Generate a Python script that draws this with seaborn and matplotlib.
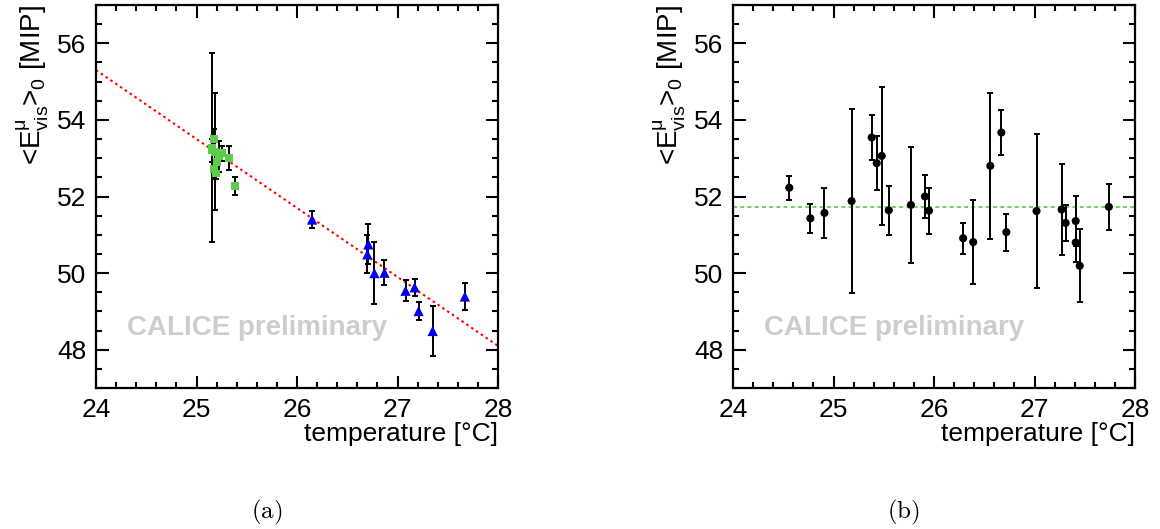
import matplotlib
matplotlib.use("Agg")
import matplotlib.pyplot as plt
import seaborn as sns
import pandas as pd
from matplotlib.ticker import MultipleLocator

# ---------------- data ----------------
# panel (a): green squares (cluster near 25.2 C)
green_t = [25.15, 25.18, 25.17, 25.15, 25.25, 25.32, 25.38, 25.20, 25.17, 25.22, 25.19]
green_e = [53.28, 53.17, 53.50, 53.20, 53.13, 53.00, 52.28, 52.90, 52.72, 53.05, 52.60]
green_err = [2.47, 1.52, 0.25, 0.30, 0.20, 0.32, 0.24, 0.30, 0.25, 0.40, 0.15]

# panel (a): blue triangles
blue_t = [26.15, 26.71, 26.70, 26.77, 26.87, 27.08, 27.17, 27.21, 27.35, 27.67]
blue_e = [51.40, 50.75, 50.49, 50.00, 50.01, 49.54, 49.63, 49.01, 48.49, 49.39]
blue_err = [0.22, 0.52, 0.50, 0.80, 0.32, 0.28, 0.22, 0.23, 0.65, 0.35]

# panel (a): linear fit end points
fit_t = [24.0, 28.0]
fit_e = [55.30, 48.10]

# panel (b): corrected values
corr_t = [24.56, 24.77, 24.91, 25.18, 25.38, 25.43, 25.48, 25.55, 25.77, 25.91,
          25.95, 26.29, 26.39, 26.56, 26.67, 26.72, 27.02, 27.27, 27.31, 27.41,
          27.41, 27.45, 27.74]
corr_e = [52.23, 51.43, 51.57, 51.88, 53.54, 52.87, 53.06, 51.64, 51.78, 52.00,
          51.63, 50.91, 50.81, 52.80, 53.67, 51.07, 51.62, 51.66, 51.31, 51.36,
          50.80, 50.19, 51.73]
corr_err = [0.31, 0.37, 0.66, 2.40, 0.60, 0.70, 1.80, 0.64, 1.52, 0.57,
            0.60, 0.41, 1.10, 1.90, 0.58, 0.48, 2.00, 1.18, 0.47, 0.65,
            0.50, 0.95, 0.60]

# panel (b): constant level
const_t = [24.0, 28.0]
const_e = [51.73, 51.73]

xticks = [24, 25, 26, 27, 28]
yticks = [48, 50, 52, 54, 56]
ylabel = r"<E$^{\mathrm{\mu}}_{\mathrm{vis}}$>$_{0}$ [MIP]"
xlabel = "temperature [°C]"
panel_labels = [r"$\mathrm{(a)}$", r"$\mathrm{(b)}$"]
watermark = "CALICE preliminary"

# ---------------- style ----------------
sns.set_style("ticks")
plt.rcParams["font.family"] = ["Liberation Sans", "DejaVu Sans"]
plt.rcParams["text.color"] = "black"
plt.rcParams["axes.labelcolor"] = "black"
plt.rcParams["xtick.color"] = "black"
plt.rcParams["ytick.color"] = "black"
plt.rcParams["mathtext.fontset"] = "custom"
plt.rcParams["mathtext.rm"] = "Liberation Sans"
plt.rcParams["mathtext.it"] = "Liberation Sans"

fig = plt.figure(figsize=(11.6, 5.29), dpi=100)
ax1 = fig.add_axes([96 / 1160, 1 - 388 / 529, 402 / 1160, 383 / 529])
ax2 = fig.add_axes([733 / 1160, 1 - 388 / 529, 402 / 1160, 383 / 529])

df_g = pd.DataFrame({"t": green_t, "e": green_e, "err": green_err})
df_b = pd.DataFrame({"t": blue_t, "e": blue_e, "err": blue_err})
df_c = pd.DataFrame({"t": corr_t, "e": corr_e, "err": corr_err})
df_fit = pd.DataFrame({"t": fit_t, "e": fit_e})
df_const = pd.DataFrame({"t": const_t, "e": const_e})

ebkw = dict(fmt="none", ecolor="black", elinewidth=1.4, capsize=2.2, capthick=1.4, zorder=2)

# panel (a)
sns.lineplot(data=df_fit, x="t", y="e", ax=ax1, color="red", linestyle=(0, (1.2, 1.6)),
             linewidth=1.5, zorder=1)
ax1.errorbar(df_g["t"], df_g["e"], yerr=df_g["err"], **ebkw)
ax1.errorbar(df_b["t"], df_b["e"], yerr=df_b["err"], **ebkw)
sns.scatterplot(data=df_g, x="t", y="e", ax=ax1, marker="s", s=32, color="#5ccc4c",
                edgecolor="none", zorder=3)
sns.scatterplot(data=df_b, x="t", y="e", ax=ax1, marker="^", s=55, color="#0000ee",
                edgecolor="none", zorder=3)

# panel (b)
sns.lineplot(data=df_const, x="t", y="e", ax=ax2, color="#66cc55", linestyle=(0, (2.2, 1.8)),
             linewidth=1.3, zorder=1)
ax2.errorbar(df_c["t"], df_c["e"], yerr=df_c["err"], **ebkw)
sns.scatterplot(data=df_c, x="t", y="e", ax=ax2, marker="o", s=34, color="black",
                edgecolor="none", zorder=3)

for ax, lab in zip([ax1, ax2], panel_labels):
    ax.set_xlim(24, 28)
    ax.set_ylim(47, 57)
    ax.set_xticks(xticks)
    ax.set_yticks(yticks)
    ax.xaxis.set_minor_locator(MultipleLocator(0.2))
    ax.yaxis.set_minor_locator(MultipleLocator(0.5))
    ax.tick_params(which="both", direction="in", top=True, right=True, width=1.5,
                   labelsize=19, color="black", labelcolor="black")
    ax.tick_params(which="major", length=9, pad=7)
    ax.tick_params(which="minor", length=4.5)
    for sp in ax.spines.values():
        sp.set_linewidth(1.6)
        sp.set_color("black")
    ax.set_xlabel(xlabel, fontsize=19, loc="right", labelpad=0, color="black")
    ax.set_ylabel(ylabel, fontsize=20, loc="top", labelpad=4, color="black")
    ax.text(0.077, 0.157, watermark, transform=ax.transAxes, fontsize=20,
            fontweight="bold", color="#cdcdcd", va="center", ha="left", zorder=0)
    ax.text(0.425, -0.325, lab, transform=ax.transAxes, ha="center", va="center",
            fontsize=18, math_fontfamily="cm", color="black")
    ax.grid(False)

fig.savefig("out.png", dpi=100, facecolor="white")
